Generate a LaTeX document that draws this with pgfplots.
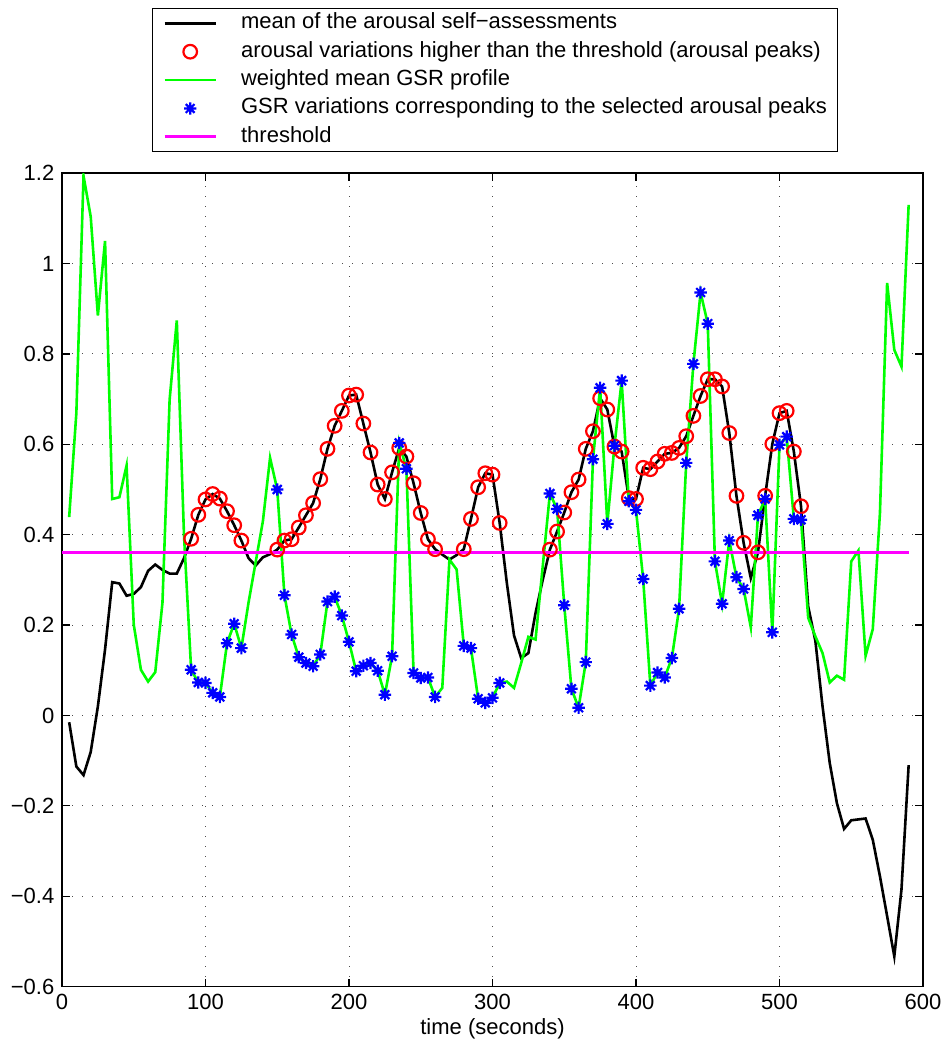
\documentclass[border=0pt]{standalone}
\usepackage{fontspec}
\setmainfont{Liberation Sans}
\usepackage{pgfplots}
\pgfplotsset{compat=1.18}
\usepackage{pgfplotstable}
\definecolor{mgreen}{rgb}{0,1,0}
\definecolor{mmag}{rgb}{1,0,1}
\definecolor{mblue}{rgb}{0,0,1}
\definecolor{mred}{rgb}{1,0,0}
\pgfdeclareplotmark{mstar}{%
  \pgfpathmoveto{\pgfqpoint{-\pgfplotmarksize}{0pt}}\pgfpathlineto{\pgfqpoint{\pgfplotmarksize}{0pt}}%
  \pgfpathmoveto{\pgfqpoint{0pt}{-\pgfplotmarksize}}\pgfpathlineto{\pgfqpoint{0pt}{\pgfplotmarksize}}%
  \pgfpathmoveto{\pgfqpoint{-0.7071\pgfplotmarksize}{-0.7071\pgfplotmarksize}}\pgfpathlineto{\pgfqpoint{0.7071\pgfplotmarksize}{0.7071\pgfplotmarksize}}%
  \pgfpathmoveto{\pgfqpoint{-0.7071\pgfplotmarksize}{0.7071\pgfplotmarksize}}\pgfpathlineto{\pgfqpoint{0.7071\pgfplotmarksize}{-0.7071\pgfplotmarksize}}%
  \pgfusepathqstroke}
\pgfplotstableread{
t a g ap gp
5 -0.015 0.439 nan nan
10 -0.113 0.669 nan nan
15 -0.132 1.194 nan nan
20 -0.081 1.104 nan nan
25 0.020 0.885 nan nan
30 0.146 1.050 nan nan
35 0.295 0.479 nan nan
40 0.292 0.483 nan nan
45 0.265 0.553 nan nan
50 0.269 0.201 nan nan
55 0.284 0.101 nan nan
60 0.320 0.075 nan nan
65 0.334 0.096 nan nan
70 0.322 0.249 nan nan
75 0.314 0.699 nan nan
80 0.314 0.874 nan nan
85 0.348 0.400 nan nan
90 0.391 0.101 0.391 0.101
95 0.444 0.073 0.444 0.073
100 0.478 0.072 0.478 0.072
105 0.490 0.050 0.490 0.050
110 0.480 0.041 0.480 0.041
115 0.452 0.160 0.452 0.160
120 0.421 0.203 0.421 0.203
125 0.387 0.149 0.387 0.149
130 0.348 0.250 nan nan
135 0.332 0.340 nan nan
140 0.350 0.430 nan nan
145 0.357 0.570 nan nan
150 0.367 0.500 0.367 0.500
155 0.387 0.266 0.387 0.266
160 0.390 0.179 0.390 0.179
165 0.416 0.129 0.416 0.129
170 0.443 0.116 0.443 0.116
175 0.470 0.109 0.470 0.109
180 0.523 0.135 0.523 0.135
185 0.590 0.252 0.590 0.252
190 0.641 0.263 0.641 0.263
195 0.674 0.221 0.674 0.221
200 0.708 0.163 0.708 0.163
205 0.710 0.098 0.710 0.098
210 0.646 0.110 0.646 0.110
215 0.582 0.116 0.582 0.116
220 0.511 0.099 0.511 0.099
225 0.479 0.046 0.479 0.046
230 0.538 0.131 0.538 0.131
235 0.592 0.603 0.592 0.603
240 0.573 0.546 0.573 0.546
245 0.514 0.094 0.514 0.094
250 0.448 0.083 0.448 0.083
255 0.390 0.084 0.390 0.084
260 0.368 0.041 0.368 0.041
265 0.356 0.061 nan nan
270 0.345 0.345 nan nan
275 0.355 0.323 nan nan
280 0.368 0.154 0.368 0.154
285 0.435 0.149 0.435 0.149
290 0.505 0.037 0.505 0.037
295 0.536 0.028 0.536 0.028
300 0.533 0.039 0.533 0.039
305 0.426 0.072 0.426 0.072
310 0.293 0.075 nan nan
315 0.177 0.061 nan nan
320 0.127 0.116 nan nan
325 0.138 0.174 nan nan
330 0.227 0.168 nan nan
335 0.300 0.330 nan nan
340 0.367 0.491 0.367 0.491
345 0.407 0.457 0.407 0.457
350 0.449 0.244 0.449 0.244
355 0.494 0.059 0.494 0.059
360 0.522 0.017 0.522 0.017
365 0.590 0.118 0.590 0.118
370 0.629 0.567 0.629 0.567
375 0.702 0.725 0.702 0.725
380 0.677 0.424 0.677 0.424
385 0.595 0.597 0.595 0.597
390 0.584 0.741 0.584 0.741
395 0.481 0.474 0.481 0.474
400 0.479 0.455 0.479 0.455
405 0.548 0.302 0.548 0.302
410 0.545 0.066 0.545 0.066
415 0.562 0.095 0.562 0.095
420 0.579 0.084 0.579 0.084
425 0.581 0.127 0.581 0.127
430 0.592 0.236 0.592 0.236
435 0.618 0.559 0.618 0.559
440 0.663 0.778 0.663 0.778
445 0.707 0.936 0.707 0.936
450 0.744 0.867 0.744 0.867
455 0.744 0.341 0.744 0.341
460 0.728 0.247 0.728 0.247
465 0.625 0.387 0.625 0.387
470 0.486 0.306 0.486 0.306
475 0.382 0.280 0.382 0.280
480 0.304 0.195 nan nan
485 0.361 0.443 0.361 0.443
490 0.486 0.479 0.486 0.479
495 0.601 0.184 0.601 0.184
500 0.669 0.599 0.669 0.599
505 0.674 0.617 0.674 0.617
510 0.584 0.435 0.584 0.435
515 0.463 0.433 0.463 0.433
520 0.241 0.216 nan nan
525 0.165 0.175 nan nan
530 0.020 0.138 nan nan
535 -0.105 0.073 nan nan
540 -0.194 0.088 nan nan
545 -0.251 0.079 nan nan
550 -0.232 0.341 nan nan
555 -0.230 0.365 nan nan
560 -0.228 0.132 nan nan
565 -0.275 0.191 nan nan
570 -0.356 0.448 nan nan
575 -0.444 0.957 nan nan
580 -0.533 0.809 nan nan
585 -0.385 0.772 nan nan
590 -0.110 1.130 nan nan
}\data
\begin{document}
\fontsize{11bp}{13bp}\selectfont
\begin{tikzpicture}
\useasboundingbox (-31bp,-29.2bp) rectangle (441bp,493.3bp);
\begin{axis}[
  scale only axis, width=430.5bp, height=406.7bp,
  xmin=0, xmax=600, ymin=-0.6, ymax=1.2,
  xtick={0,100,200,300,400,500,600},
  ytick={-0.6,-0.4,-0.2,0,0.2,0.4,0.6,0.8,1,1.2},
  yticklabels={−0.6,−0.4,−0.2,0,0.2,0.4,0.6,0.8,1,1.2},
  /pgf/number format/assume math mode=true,
  tick label style={font=\fontsize{11bp}{13bp}\selectfont},
  grid=major,
  major grid style={black!70, line width=0.5bp, dash pattern=on 0.5bp off 4.5bp},
  tick align=inside, major tick length=4bp,
  every tick/.style={black, line width=0.6bp},
  axis line style={line width=0.7bp},
  xlabel={time (seconds)},
  xlabel style={at={(axis description cs:0.5,0)}, anchor=center, yshift=-21bp, font=\fontsize{11bp}{13bp}\selectfont},
  legend cell align=left,
  legend style={at={(axis description cs:0.503,1)}, anchor=south, yshift=10.7bp,
    draw=black, inner xsep=5.5bp, inner ysep=2bp,
    row sep=3.7bp, column sep=12bp,
    nodes={inner sep=0pt, text height=8bp, text depth=2.5bp},
    font=\fontsize{11bp}{13bp}\selectfont},
  legend image code/.code={\draw[mark repeat=2,mark phase=2,#1] plot coordinates {(0bp,0bp) (12.75bp,0bp) (25.5bp,0bp)};},
]
\addplot[black, line width=1.3bp, mark=none] table[x=t, y=a] {\data};
\addlegendentry{mean of the arousal self−assessments}
\addplot[only marks, mred, mark=o, mark size=3.4bp, mark options={line width=1.1bp}] table[x=t, y=ap] {\data};
\addlegendentry{arousal variations higher than the threshold (arousal peaks)}
\addplot[mgreen, line width=1.3bp, mark=none] table[x=t, y=g] {\data};
\addlegendentry{weighted mean GSR profile}
\addplot[only marks, mblue, mark=mstar, mark size=3.1bp, mark options={line width=1.1bp}] table[x=t, y=gp] {\data};
\addlegendentry{GSR variations corresponding to the selected arousal peaks}
\addplot[mmag, line width=1.4bp, mark=none] coordinates {(0,0.36) (590,0.36)};
\addlegendentry{threshold}
\end{axis}
\end{tikzpicture}
\end{document}
